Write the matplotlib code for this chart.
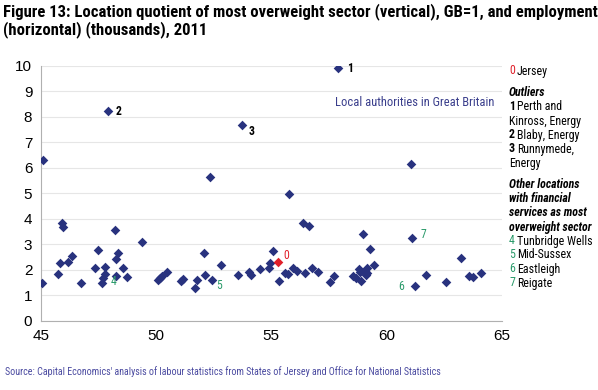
import matplotlib
matplotlib.use('Agg')
import matplotlib.pyplot as plt

# local authorities: employment (thousands) and location quotient
emp = [45.11, 45.06, 47.94, 45.92, 45.96, 45.82, 45.76, 46.18, 46.38, 46.77,
       47.34, 47.47, 47.77, 47.77, 47.70, 47.66, 48.23, 48.34, 48.25, 48.28,
       48.56, 48.73, 49.40, 50.11, 50.19, 50.26, 50.47, 51.09, 51.16, 51.68,
       51.79, 52.12, 52.09, 52.33, 52.44, 52.83,
       57.91, 53.73, 61.06, 55.76, 56.36, 56.65, 58.99, 61.10, 59.27, 55.09,
       54.94, 54.91, 54.51, 54.03, 54.11, 53.58, 55.36, 55.59, 55.75, 55.93,
       56.13, 56.47, 56.79, 57.03, 57.54, 57.73, 58.53, 58.69, 58.81, 58.86,
       58.91, 59.15, 59.16, 59.45, 61.22, 61.72, 62.59, 63.23, 63.58, 63.75,
       64.09, 59.05, 59.10]
lq = [6.29, 1.49, 8.22, 3.82, 3.65, 2.24, 1.82, 2.30, 2.55, 1.47,
      2.05, 2.77, 2.11, 1.82, 1.65, 1.49, 3.56, 2.64, 2.41, 1.74,
      2.08, 1.69, 3.10, 1.60, 1.67, 1.74, 1.92, 1.56, 1.64, 1.28,
      1.60, 1.77, 2.64, 5.61, 1.58, 2.18,
      9.92, 7.67, 6.15, 4.98, 3.82, 3.71, 3.39, 3.22, 2.81, 2.71,
      2.27, 2.07, 2.04, 1.91, 1.80, 1.80, 1.56, 1.87, 1.84, 2.08,
      1.95, 1.88, 2.07, 1.92, 1.51, 1.74, 1.73, 1.65, 2.04, 1.92,
      1.56, 2.07, 1.86, 2.18, 1.35, 1.78, 1.52, 2.46, 1.75, 1.70,
      1.86, 1.95, 1.80]

jersey = (55.30, 2.29)

# numbered labels beside points
etiketa_br = ['1', '2', '3', '4', '5', '6', '7']
etiketa_x = [57.91, 47.94, 53.73, 48.28, 52.44, 61.22, 61.10]
etiketa_y = [9.92, 8.22, 7.67, 1.74, 1.58, 1.35, 3.22]

navy = '#28327e'
zelena = '#2a9a6a'
crvena = '#e0202a'
uska = ['Roboto Condensed', 'PT Sans Narrow', 'DejaVu Sans']

plt.rcParams['font.family'] = uska

fig = plt.figure(figsize=(5.98, 3.90), dpi=100)
ax = fig.add_axes([0.068, 0.178, 0.771, 0.654])

ax.scatter(emp, lq, marker='D', s=24, color=navy, zorder=3, linewidths=0)
ax.scatter([jersey[0]], [jersey[1]], marker='D', s=24, color=crvena, zorder=4, linewidths=0)

ax.set_xlim(45, 65)
ax.set_ylim(0, 10)
ax.set_xticks([45, 50, 55, 60, 65])
ax.set_yticks(range(0, 11))
ax.grid(axis='y', color='#e6e6e6', linewidth=0.8)
ax.set_axisbelow(True)
for s in ['top', 'right']:
    ax.spines[s].set_visible(False)
ax.spines['left'].set_color('#b0b0b0')
ax.spines['bottom'].set_color('#b0b0b0')
ax.tick_params(axis='both', length=0, labelsize=11, pad=6)
for lbl in ax.get_xticklabels() + ax.get_yticklabels():
    lbl.set_family(['Liberation Sans', 'DejaVu Sans'])

pomak = {'1': (6, -3), '2': (5, -3), '3': (5, -7), '4': (-4, -6),
         '5': (3, -6), '6': (-12, -3), '7': (6, 0)}
for br, x, y in zip(etiketa_br, etiketa_x, etiketa_y):
    if br in '123':
        boja, tezina = 'black', 'bold'
    else:
        boja, tezina = zelena, 'normal'
    ax.annotate(br, (x, y), xytext=pomak[br], textcoords='offset points',
                fontsize=8.5, color=boja, fontweight=tezina)
ax.annotate('0', jersey, xytext=(4, 2), textcoords='offset points',
            fontsize=8.5, color=crvena)

ax.text(0.985, 0.855, 'Local authorities in Great Britain', transform=ax.transAxes,
        ha='right', va='center', fontsize=9, color='#3a3e8c')

# title
fig.text(3 / 598, 1 - 3 / 390,
         'Figure 13: Location quotient of most overweight sector (vertical), GB=1, and employment\n(horizontal) (thousands), 2011',
         ha='left', va='top', fontsize=12, fontweight='bold', linespacing=1.05)

# source
fig.text(5 / 598, 1 - 372 / 390,
         "Source: Capital Economics' analysis of labour statistics from States of Jersey and Office for National Statistics",
         ha='left', va='center', fontsize=7.2, color='#4a4aa0')

# right-hand key
def red(y, br, tekst, boja):
    fig.text(509 / 598, 1 - y / 390, br, ha='left', va='center', fontsize=8.6,
             color=boja, fontweight='bold' if boja == 'black' else 'normal')
    fig.text(517 / 598, 1 - y / 390, tekst, ha='left', va='center', fontsize=8.6)

def obican(y, tekst, **kw):
    fig.text(509 / 598, 1 - y / 390, tekst, ha='left', va='center', fontsize=8.6, **kw)

red(71, '0', 'Jersey', crvena)
obican(93, 'Outliers', fontweight='bold', fontstyle='italic')
red(107, '1', 'Perth and', 'black')
obican(121, 'Kinross, Energy')
red(135, '2', 'Blaby, Energy', 'black')
red(149, '3', 'Runnymede,', 'black')
obican(163, 'Energy')
obican(185, 'Other locations', fontweight='bold', fontstyle='italic')
obican(199, 'with financial', fontweight='bold', fontstyle='italic')
obican(213, 'services as most', fontweight='bold', fontstyle='italic')
obican(227, 'overweight sector', fontweight='bold', fontstyle='italic')
red(241, '4', 'Tunbridge Wells', zelena)
red(255, '5', 'Mid-Sussex', zelena)
red(269, '6', 'Eastleigh', zelena)
red(283, '7', 'Reigate', zelena)

fig.savefig('out.png', dpi=100)
